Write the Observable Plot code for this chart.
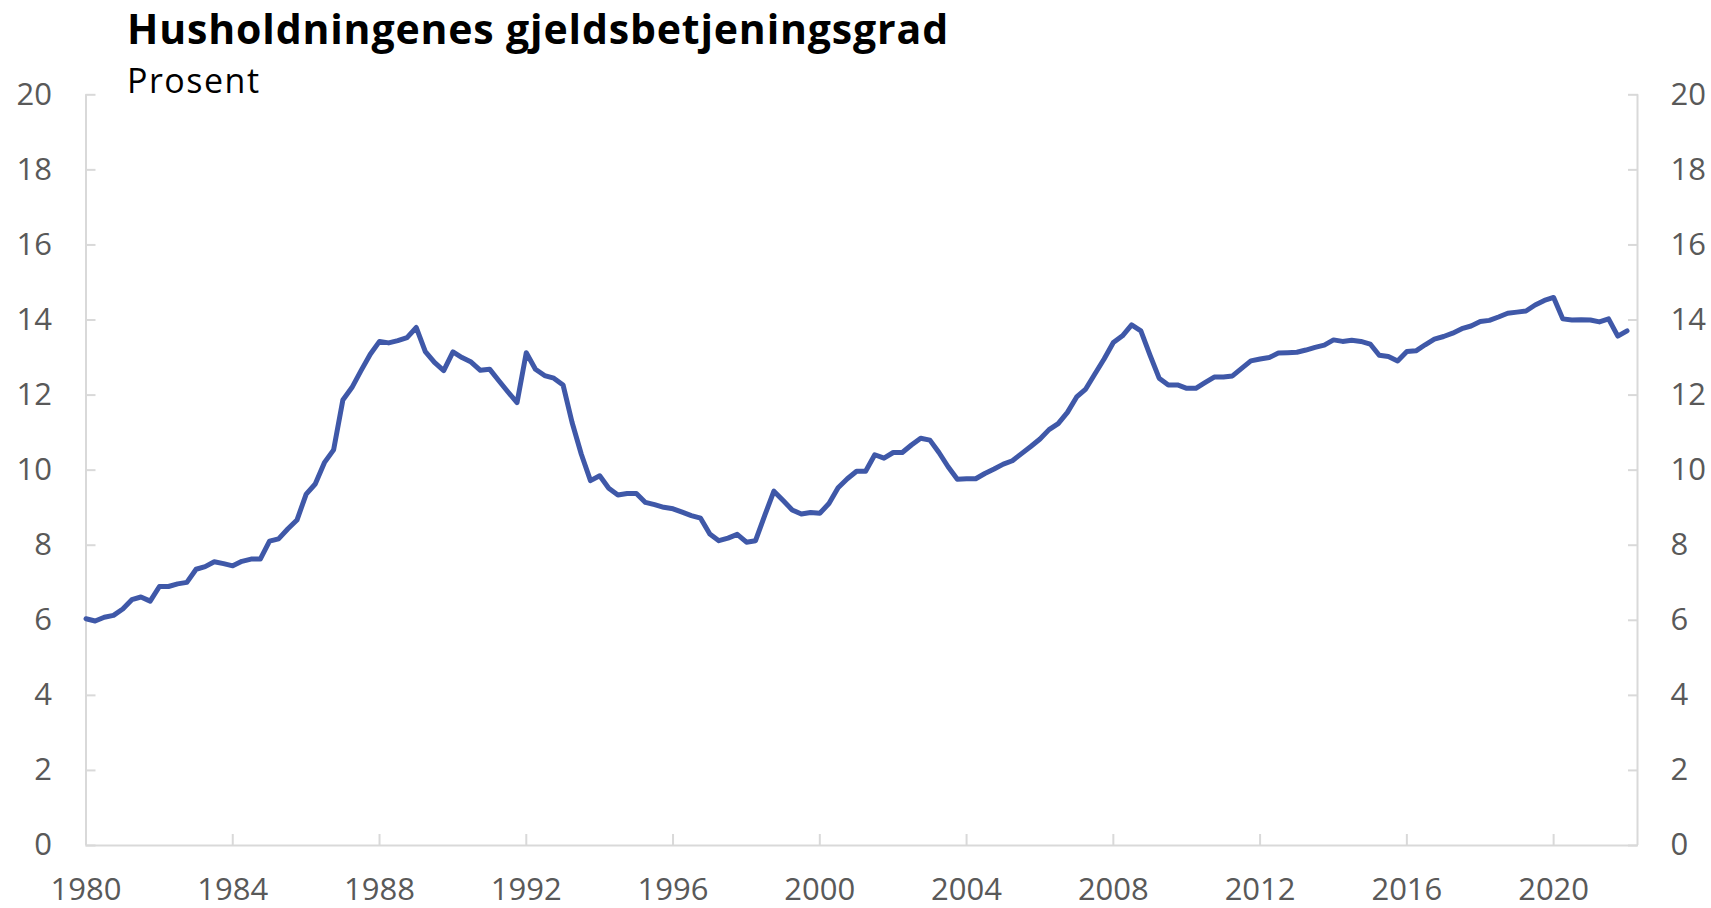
<!DOCTYPE html>
<html>
<head>
<meta charset="utf-8">
<script src="https://cdn.jsdelivr.net/npm/d3@7"></script>
<script src="https://cdn.jsdelivr.net/npm/@observablehq/plot@0.6"></script>
<style>
  html, body { margin: 0; padding: 0; background: #fff; }
  #wrap { position: relative; width: 1711px; height: 908px; font-family: "Open Sans", sans-serif; }
  #title { position: absolute; left: 127px; top: 7.8px; font-size: 41px; line-height: 41px; letter-spacing: 0.85px; font-weight: 700; color: #000; white-space: nowrap; }
  #subtitle { position: absolute; left: 127px; top: 62.6px; font-size: 34px; line-height: 34px; letter-spacing: 1.5px; font-weight: 400; color: #000; white-space: nowrap; }
  #chart { position: absolute; left: 0; top: 0; }
</style>
</head>
<body>
<div id="wrap">
  <div id="chart"></div>
  <div id="title">Husholdningenes gjeldsbetjeningsgrad</div>
  <div id="subtitle">Prosent</div>
</div>
<script>
// Quarterly series, first observation 1980 Q1
const firstYear = 1980;
const values = [
  6.04, 5.98, 6.08, 6.13,      // 1980
  6.30, 6.55, 6.62, 6.51,      // 1981
  6.90, 6.90, 6.97, 7.01,      // 1982
  7.36, 7.43, 7.56, 7.51,      // 1983
  7.45, 7.57, 7.63, 7.63,      // 1984
  8.11, 8.17, 8.43, 8.67,      // 1985
  9.36, 9.63, 10.20, 10.54,    // 1986
  11.87, 12.20, 12.65, 13.09,  // 1987
  13.43, 13.39, 13.45, 13.53,  // 1988
  13.80, 13.16, 12.87, 12.65,  // 1989
  13.15, 13.00, 12.88, 12.66,  // 1990
  12.69, 12.39, 12.09, 11.80,  // 1991
  13.13, 12.69, 12.52, 12.45,  // 1992
  12.27, 11.27, 10.43, 9.72,   // 1993
  9.85, 9.52, 9.34, 9.38,      // 1994
  9.38, 9.14, 9.08, 9.01,      // 1995
  8.97, 8.88, 8.79, 8.72,      // 1996
  8.30, 8.12, 8.19, 8.29,      // 1997
  8.08, 8.12, 8.79, 9.44,      // 1998
  9.19, 8.94, 8.83, 8.87,      // 1999
  8.85, 9.11, 9.53, 9.77,      // 2000
  9.97, 9.97, 10.41, 10.32,    // 2001
  10.47, 10.47, 10.67, 10.85,  // 2002
  10.80, 10.47, 10.09, 9.76,   // 2003
  9.77, 9.77, 9.91, 10.03,     // 2004
  10.16, 10.25, 10.44, 10.63,  // 2005
  10.83, 11.08, 11.24, 11.54,  // 2006
  11.95, 12.16, 12.56, 12.96,  // 2007
  13.40, 13.58, 13.87, 13.71,  // 2008
  13.06, 12.45, 12.27, 12.27,  // 2009
  12.18, 12.18, 12.33, 12.48,  // 2010
  12.48, 12.51, 12.71, 12.91,  // 2011
  12.96, 13.00, 13.12, 13.13,  // 2012
  13.14, 13.20, 13.27, 13.33,  // 2013
  13.47, 13.43, 13.46, 13.43,  // 2014
  13.36, 13.06, 13.03, 12.91,  // 2015
  13.16, 13.18, 13.34, 13.49,  // 2016
  13.56, 13.65, 13.77, 13.84,  // 2017
  13.96, 13.99, 14.08, 14.18,  // 2018
  14.21, 14.24, 14.40, 14.52,  // 2019
  14.60, 14.03, 14.00, 14.01,  // 2020
  14.00, 13.95, 14.03, 13.57,  // 2021
  13.71                        // 2022
];
const yTicks = [0, 2, 4, 6, 8, 10, 12, 14, 16, 18, 20];
const xTickYears = [1980, 1984, 1988, 1992, 1996, 2000, 2004, 2008, 2012, 2016, 2020];
const xStart = new Date(Date.UTC(1980, 0, 1));
const xEnd = new Date(Date.UTC(2022, 3, 15));

const data = values.map((v, i) => ({
  date: new Date(Date.UTC(firstYear + Math.floor(i / 4), (i % 4) * 3, 1)),
  value: v
}));
const xTicks = xTickYears.map(y => new Date(Date.UTC(y, 0, 1)));

const axisColor = "#d9d9d9";
const labelColor = "#595959";

const chart = Plot.plot({
  width: 1711,
  height: 908,
  marginTop: 94.3,
  marginBottom: 63,
  marginLeft: 85.5,
  marginRight: 74,
  style: { fontFamily: "Open Sans, sans-serif", background: "#fff", overflow: "visible" },
  x: { type: "utc", domain: [xStart, xEnd] },
  y: { domain: [0, 20] },
  marks: [
    Plot.ruleY([0], { stroke: axisColor, strokeWidth: 2 }),
    Plot.ruleX([xStart, xEnd], { y1: 0, y2: 20, stroke: axisColor, strokeWidth: 2 }),
    Plot.axisY(yTicks, { anchor: "left", tickSize: -10, tickPadding: 44, stroke: axisColor, strokeWidth: 2, fill: labelColor, fontSize: 31, label: null }),
    Plot.axisY(yTicks, { anchor: "right", tickSize: -10, tickPadding: 43, stroke: axisColor, strokeWidth: 2, fill: labelColor, fontSize: 31, label: null }),
    Plot.axisX(xTicks, { anchor: "bottom", tickSize: -11, tickPadding: 43, stroke: axisColor, strokeWidth: 2, fill: labelColor, fontSize: 31, label: null, tickFormat: d => String(d.getUTCFullYear()) }),
    Plot.lineY(data, { x: "date", y: "value", stroke: "#3f58a8", strokeWidth: 5 })
  ]
});
document.getElementById("chart").appendChild(chart);
</script>
</body>
</html>
